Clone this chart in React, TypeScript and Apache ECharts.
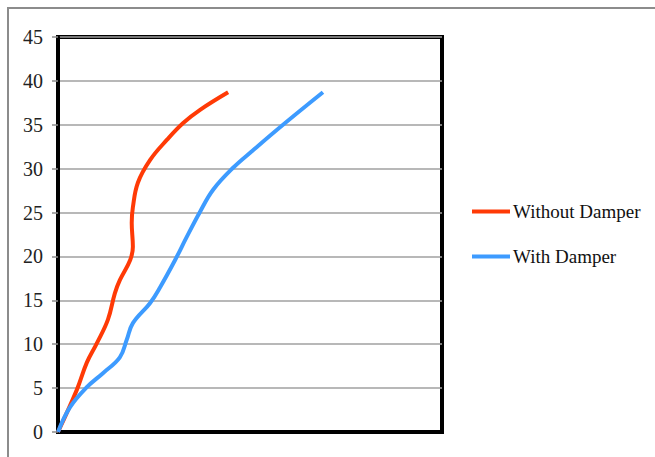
import React, { useEffect, useRef } from "react";
import * as echarts from "echarts";

// Horizontal position (hidden axis, 0–100) and height for each curve
const withoutDamperX = [0, 4.9, 7.5, 10.1, 13.0, 14.8, 16.1, 18.8, 19.5, 19.2, 19.5, 20.8, 24.0, 28.4, 32.6, 37.0, 44.3];
const withoutDamperY = [0, 4.8, 7.9, 10.1, 12.8, 15.8, 17.3, 19.6, 21.1, 23.8, 25.6, 28.4, 31.0, 33.3, 35.2, 36.7, 38.7];

const withDamperX = [0, 3.1, 7.5, 11.7, 16.1, 17.9, 19.5, 24.0, 26.6, 30.5, 33.5, 37.0, 40.4, 45.6, 50.8, 58.6, 69.0];
const withDamperY = [0, 2.8, 5.1, 6.7, 8.5, 10.5, 12.4, 14.7, 16.5, 19.6, 22.2, 25.1, 27.6, 30.1, 32.1, 35.0, 38.7];

const seriesNames = ["Without Damper", "With Damper"];
const yTicks = { min: 0, max: 45, interval: 5 };

const pairs = (xs: number[], ys: number[]) => xs.map((x, i) => [x, ys[i]]);

export default function App() {
  const ref = useRef<HTMLDivElement>(null);

  useEffect(() => {
    if (!ref.current) return;
    const chart = echarts.init(ref.current, null, { renderer: "svg" });
    chart.setOption({
      animation: false,
      backgroundColor: "#ffffff",
      graphic: [
        {
          type: "rect",
          shape: { x: 8, y: 8, width: 700, height: 500 },
          style: { fill: "none", stroke: "#8c8c8c", lineWidth: 2 },
          silent: true,
        },
      ],
      grid: {
        left: 58,
        right: 213,
        top: 37,
        bottom: 25,
        show: true,
        borderColor: "#000",
        borderWidth: 4,
        backgroundColor: "transparent",
      },
      legend: {
        orient: "vertical",
        left: 472,
        top: 202,
        padding: 0,
        itemGap: 26,
        itemWidth: 38,
        itemHeight: 4,
        icon: "rect",
        data: seriesNames,
        textStyle: {
          fontFamily: "Liberation Serif",
          fontSize: 19,
          color: "#111",
          padding: [0, 0, 0, -2],
        },
      },
      xAxis: {
        type: "value",
        min: 0,
        max: 100,
        axisLabel: { show: false },
        axisTick: { show: false },
        splitLine: { show: false },
        axisLine: { show: true, lineStyle: { color: "#000", width: 4 } },
      },
      yAxis: {
        type: "value",
        min: yTicks.min,
        max: yTicks.max,
        interval: yTicks.interval,
        axisLine: { show: true, lineStyle: { color: "#000", width: 4 } },
        axisTick: { show: true, length: 6, lineStyle: { color: "#8c8c8c", width: 1.5 } },
        axisLabel: {
          fontFamily: "Liberation Sans Narrow",
          fontSize: 20,
          color: "#222",
          margin: 15,
        },
        splitLine: { show: true, lineStyle: { color: "#a0a0a0", width: 1.5 } },
      },
      series: [
        {
          name: seriesNames[0],
          type: "line",
          smooth: 0.4,
          showSymbol: false,
          data: pairs(withoutDamperX, withoutDamperY),
          lineStyle: { color: "#ff3a06", width: 4 },
          itemStyle: { color: "#ff3a06" },
          z: 3,
        },
        {
          name: seriesNames[1],
          type: "line",
          smooth: 0.4,
          showSymbol: false,
          data: pairs(withDamperX, withDamperY),
          lineStyle: { color: "#3d9bff", width: 4 },
          itemStyle: { color: "#3d9bff" },
          z: 3,
        },
      ],
    });
    return () => chart.dispose();
  }, []);

  return (
    <div
      ref={ref}
      style={{ position: "fixed", left: 0, top: 0, width: 655, height: 457 }}
    />
  );
}
